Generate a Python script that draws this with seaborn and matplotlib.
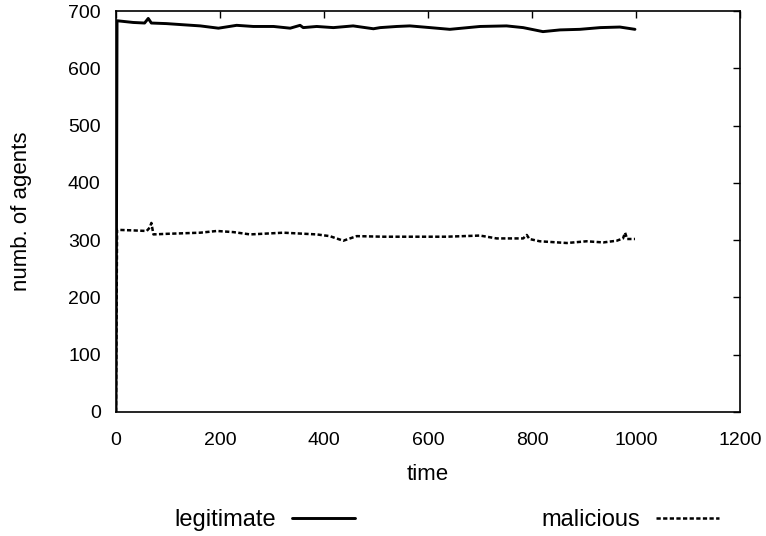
import matplotlib
matplotlib.use("Agg")
import matplotlib.pyplot as plt
import seaborn as sns
import pandas as pd

# ---- data ----
legit_time = [0, 2, 33, 55, 62, 68, 97, 129, 162, 197, 232, 264, 303, 335, 354, 360,
              386, 418, 456, 495, 508, 540, 565, 604, 642, 700, 751, 783, 821, 854,
              892, 931, 969, 998]
legit_vals = [0, 683, 680, 679, 687, 679, 678, 676, 674, 670, 675, 673, 673, 670, 675, 671,
              673, 671, 674, 669, 671, 673, 674, 671, 668, 673, 674, 671, 664, 667,
              668, 671, 672, 668]

mal_time = [0, 2, 33, 59, 65, 68, 72, 97, 162, 194, 226, 258, 322, 386, 411, 437,
            463, 514, 572, 636, 700, 732, 783, 790, 795, 815, 867, 905, 937, 963,
            975, 979, 983, 998]
mal_vals = [0, 318, 317, 316, 322, 330, 310, 311, 313, 316, 314, 310, 313, 310, 307, 299,
            307, 306, 306, 306, 308, 303, 303, 309, 302, 298, 295, 298, 296, 299,
            303, 313, 302, 302]

series_names = ["legitimate", "malicious"]
x_ticks = [0, 200, 400, 600, 800, 1000, 1200]
y_ticks = [0, 100, 200, 300, 400, 500, 600, 700]

df_leg = pd.DataFrame({"time": legit_time, "agents": legit_vals})
df_mal = pd.DataFrame({"time": mal_time, "agents": mal_vals})

sns.set_theme(style="white")
plt.rcParams["font.family"] = ["Liberation Sans", "DejaVu Sans"]
plt.rcParams["text.color"] = "black"
plt.rcParams["axes.labelcolor"] = "black"

fig = plt.figure(figsize=(7.66, 5.36), dpi=100)
ax = fig.add_axes([116 / 766, 1 - 412 / 536, (740 - 116) / 766, (412 - 11) / 536])

sns.lineplot(data=df_leg, x="time", y="agents", ax=ax, color="black", lw=2.1,
             label=series_names[0], estimator=None, sort=False)
sns.lineplot(data=df_mal, x="time", y="agents", ax=ax, color="black", lw=1.8,
             label=series_names[1], estimator=None, sort=False)
ax.lines[1].set_linestyle((0, (1.7, 0.95)))

ax.set_xlim(0, 1200)
ax.set_ylim(0, 700)
ax.set_xticks(x_ticks)
ax.set_yticks(y_ticks)
ax.set_xticklabels([str(v) for v in x_ticks])
ax.set_yticklabels([str(v) for v in y_ticks])

for s in ax.spines.values():
    s.set_visible(True)
    s.set_color("black")
    s.set_linewidth(1.2)

ax.tick_params(axis="both", which="both", direction="in", length=5, width=1.0,
               colors="black", top=True, right=True, labelsize=14)
ax.tick_params(axis="x", pad=14.5)
ax.tick_params(axis="y", pad=11)

ax.set_xlabel("time", fontsize=16, labelpad=11, color="black")
ax.set_ylabel("numb. of agents", fontsize=16, labelpad=26, color="black")

ax.get_legend().remove()
handles, labels = ax.get_legend_handles_labels()
fig.legend(handles, labels, loc="center", bbox_to_anchor=(446.5 / 766, 1 - 520 / 536),
           ncol=2, markerfirst=False, frameon=False, fontsize=17, labelcolor="black",
           handlelength=2.67, handletextpad=0.68, columnspacing=7.9)

fig.savefig("out.png", dpi=100)
